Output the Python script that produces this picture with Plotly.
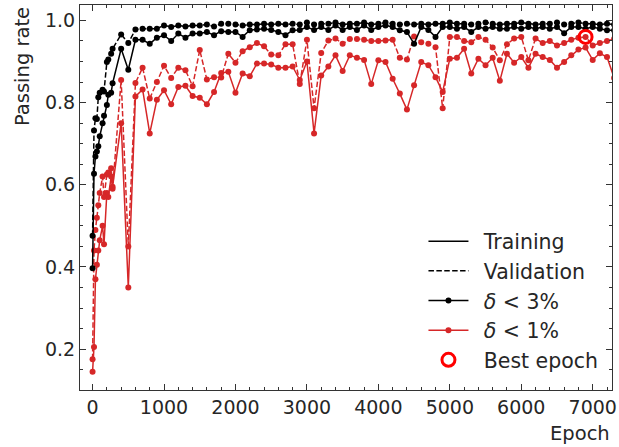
import plotly.graph_objects as go

# ---------------- data ----------------
epochs = [0, 20, 40, 60, 80, 100, 140, 160, 200, 220, 260, 280, 400, 500, 600,
          700, 800, 900, 1000, 1100, 1200, 1300, 1400, 1500, 1600, 1700, 1800, 1900,
          2000, 2100, 2200, 2300, 2400, 2500, 2600, 2700, 2800, 2900,
          3000, 3100, 3200, 3300, 3400, 3500, 3600, 3700, 3800, 3900,
          4000, 4100, 4200, 4300, 4400, 4500, 4600, 4700, 4800, 4900,
          5000, 5100, 5200, 5300, 5400, 5500, 5600, 5700, 5800, 5900,
          6000, 6100, 6200, 6300, 6400, 6500, 6600, 6700, 6800, 6900,
          7000, 7100, 7200, 7300]

# training, delta < 3%
train_3 = [0.397, 0.627, 0.669, 0.681, 0.694, 0.718, 0.75, 0.768, 0.794, 0.819, 0.824, 0.847, 0.931, 0.88, 0.953,
           0.953, 0.943, 0.958, 0.964, 0.95, 0.968, 0.958, 0.968, 0.968, 0.972, 0.964, 0.974, 0.972,
           0.972, 0.96, 0.976, 0.978, 0.98, 0.977, 0.972, 0.964, 0.976, 0.977,
           0.984, 0.977, 0.984, 0.977, 0.988, 0.977, 0.984, 0.977, 0.988, 0.977,
           0.984, 0.988, 0.984, 0.976, 0.972, 0.943, 0.984, 0.977, 0.96, 0.984,
           0.984, 0.98, 0.984, 0.972, 0.984, 0.98, 0.984, 0.98, 0.98, 0.984,
           0.98, 0.984, 0.98, 0.984, 0.98, 0.984, 0.969, 0.984, 0.984, 0.98,
           0.984, 0.98, 0.976, 0.976]

# validation, delta < 3%
val_3 = [0.476, 0.732, 0.762, 0.76, 0.813, 0.824, 0.831, 0.827, 0.899, 0.905, 0.919, 0.931, 0.966, 0.945, 0.978,
         0.98, 0.98, 0.98, 0.988, 0.984, 0.988, 0.985, 0.988, 0.988, 0.99, 0.985, 0.992, 0.992,
         0.99, 0.988, 0.99, 0.99, 0.992, 0.99, 0.992, 0.99, 0.992, 0.99,
         0.995, 0.99, 0.992, 0.992, 0.995, 0.99, 0.992, 0.992, 0.995, 0.99,
         0.992, 0.995, 0.992, 0.99, 0.992, 0.99, 0.992, 0.99, 0.992, 0.992,
         0.995, 0.992, 0.992, 0.99, 0.992, 0.995, 0.992, 0.99, 0.992, 0.992,
         0.995, 0.992, 0.99, 0.992, 0.992, 0.995, 0.99, 0.992, 0.995, 0.992,
         0.992, 0.99, 0.992, 0.99]

# training, delta < 1%
train_1 = [0.145, 0.205, 0.37, 0.405, 0.44, 0.465, 0.50, 0.455, 0.58, 0.57, 0.62, 0.595, 0.75, 0.35, 0.815,
           0.832, 0.725, 0.807, 0.83, 0.796, 0.838, 0.841, 0.816, 0.812, 0.796, 0.826, 0.872, 0.875,
           0.824, 0.871, 0.864, 0.895, 0.895, 0.893, 0.885, 0.885, 0.888, 0.855,
           0.9, 0.725, 0.866, 0.888, 0.915, 0.877, 0.915, 0.909, 0.904, 0.845,
           0.903, 0.899, 0.858, 0.822, 0.783, 0.842, 0.899, 0.891, 0.862, 0.826,
           0.907, 0.909, 0.931, 0.871, 0.907, 0.891, 0.909, 0.853, 0.919, 0.897,
           0.911, 0.885, 0.919, 0.911, 0.904, 0.885, 0.899, 0.915, 0.929, 0.934,
           0.904, 0.92, 0.911, 0.86]

# validation, delta < 1%
val_1 = [0.175, 0.44, 0.49, 0.52, 0.55, 0.58, 0.62, 0.57, 0.625, 0.63, 0.64, 0.59, 0.855, 0.45, 0.848,
         0.885, 0.81, 0.85, 0.89, 0.86, 0.885, 0.879, 0.84, 0.928, 0.856, 0.862, 0.861, 0.919,
         0.897, 0.925, 0.935, 0.945, 0.937, 0.917, 0.915, 0.942, 0.942, 0.845,
         0.953, 0.786, 0.921, 0.951, 0.956, 0.943, 0.955, 0.955, 0.953, 0.95,
         0.95, 0.951, 0.953, 0.909, 0.905, 0.961, 0.947, 0.943, 0.935, 0.786,
         0.96, 0.96, 0.95, 0.947, 0.96, 0.953, 0.934, 0.903, 0.942, 0.956,
         0.96, 0.903, 0.956, 0.945, 0.95, 0.939, 0.945, 0.953, 0.958, 0.96,
         0.939, 0.945, 0.95, 0.955]

best_epoch = [6900]
best_value = [0.96]

x_ticks = [0, 1000, 2000, 3000, 4000, 5000, 6000, 7000]
y_ticks = [0.2, 0.4, 0.6, 0.8, 1.0]

# ---------------- style ----------------
BLACK = "#000000"
RED = "#d62728"
TXT = "#262626"
AX = "#333333"
FONT = "DejaVu Sans"
FS_TICK = 19
FS_LAB = 19.5
FS_LEG = 20.5
DASH = "5.5px,2.4px"
SP = "\u2002"
MS = 6

fig = go.Figure()


def add_series(y, color, dash):
    fig.add_trace(go.Scatter(
        x=epochs, y=y, mode="lines+markers",
        line=dict(color=color, width=1.5, dash=dash),
        marker=dict(color=color, size=MS),
        showlegend=False, hoverinfo="skip"))


add_series(train_1, RED, "solid")
add_series(val_1, RED, DASH)
add_series(train_3, BLACK, "solid")
add_series(val_3, BLACK, DASH)

fig.add_trace(go.Scatter(
    x=best_epoch, y=best_value, mode="markers",
    marker=dict(symbol="circle-open", size=13, color="#ff0000", line=dict(width=3, color="#ff0000")),
    showlegend=False, hoverinfo="skip"))

# legend entries
leg = [
    ("Training", dict(mode="lines", line=dict(color=BLACK, width=1.5))),
    ("Validation", dict(mode="lines", line=dict(color=BLACK, width=1.5, dash=DASH))),
    ("<i>δ</i> < 3%", dict(mode="lines+markers", line=dict(color=BLACK, width=1.5), marker=dict(color=BLACK, size=MS))),
    ("<i>δ</i> < 1%", dict(mode="lines+markers", line=dict(color=RED, width=1.5), marker=dict(color=RED, size=MS))),
    ("Best epoch", dict(mode="markers", marker=dict(symbol="circle-open", size=13, color="#ff0000",
                                                     line=dict(width=3, color="#ff0000")))),
]
for i, (name, kw) in enumerate(leg):
    fig.add_trace(go.Scatter(x=[None], y=[None], name=SP + name, legendgroup=f"g{i}", showlegend=True, **kw))

axis_common = dict(
    showline=True, linecolor=AX, linewidth=1.2, mirror="allticks",
    ticks="inside", ticklen=6, tickwidth=1, tickcolor=AX,
    showgrid=False, zeroline=False,
    tickfont=dict(family=FONT, size=FS_TICK, color=TXT),
)

fig.update_layout(
    width=619, height=447,
    margin=dict(l=80, r=2, t=5, b=57),
    paper_bgcolor="white", plot_bgcolor="white",
    hovermode=False,
    font=dict(family=FONT, size=FS_LAB, color=TXT),
    xaxis=dict(range=[-176, 7270], tickvals=x_ticks, ticktext=[str(v) for v in x_ticks],
               minor=dict(ticks="inside", ticklen=3, dtick=200, tick0=0, tickcolor=AX, showgrid=False),
               ticklabelstandoff=0, ticklabeloverflow="allow", **axis_common),
    yaxis=dict(range=[0.1004, 1.0376], tickvals=y_ticks, ticktext=[f"{v:.1f}" for v in y_ticks],
               minor=dict(ticks="inside", ticklen=3, dtick=0.05, tick0=0, tickcolor=AX, showgrid=False),
               ticklabelstandoff=0, **axis_common),
    legend=dict(x=0.6456, y=0.025, xanchor="left", yanchor="bottom", bgcolor="rgba(0,0,0,0)",
                borderwidth=0, font=dict(family=FONT, size=FS_LEG, color=TXT),
                tracegroupgap=0, itemwidth=40),
    annotations=[
        dict(text="Passing rate", xref="paper", yref="paper", x=-0.108, y=1.0,
             xanchor="center", yanchor="top", textangle=-90, showarrow=False,
             font=dict(family=FONT, size=FS_LAB, color=TXT)),
        dict(text="Epoch", xref="paper", yref="paper", x=1.0, y=-0.112,
             xanchor="right", yanchor="middle", showarrow=False,
             font=dict(family=FONT, size=FS_LAB, color=TXT)),
    ],
)

fig.write_html("out.html", config={"displayModeBar": False},
               post_script="document.body.style.margin='0px';")
